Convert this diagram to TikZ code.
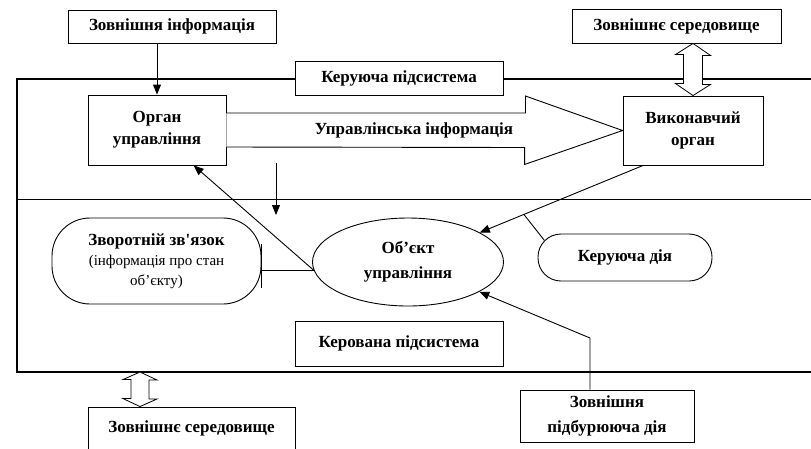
\documentclass[tikz,border=0pt]{standalone}
\usepackage{fontspec}
\setmainfont{Liberation Serif}
\usetikzlibrary{arrows.meta,calc,shapes.geometric}

\tikzset{
  box/.style={draw, fill=white, inner sep=2pt, align=center,
    font=\fontsize{17}{22}\selectfont\bfseries},
  oval/.style={draw, ellipse, fill=white, inner sep=0pt, align=center,
    font=\fontsize{17}{25}\selectfont\bfseries},
  pill/.style={draw, fill=white, rounded corners=#1, inner sep=2pt, align=center,
    font=\fontsize{15}{20}\selectfont},
  dbl/.style={draw, fill=white, line width=0.8pt}
}

\begin{document}
\begin{tikzpicture}[x=1pt, y=-1pt, line width=0.9pt, >={Triangle[length=10pt,width=8pt]}]
\useasboundingbox (0,0) rectangle (811,448);

% Рамка системи
\draw[line width=1.1pt] (811,79) -- (17,79) -- (17,372) -- (811,372);
\draw[line width=1.1pt] (17,199.5) -- (811,199.5);

% Блоки
\node[box, minimum width=208pt, minimum height=33pt] (extinfo) at (172,26.5) {Зовнішня інформація};
\node[box, minimum width=209pt, minimum height=34pt] (envtop) at (676.5,26) {Зовнішнє середовище};
\node[box, minimum width=208pt, minimum height=34pt] (ksub) at (399,78) {Керуюча підсистема};
\node[box, minimum width=138pt, minimum height=70pt] (organ) at (157,130) {Орган\\управління};
\node[box, minimum width=140pt, minimum height=69pt] (vyk) at (693,130.5) {Виконавчий\\орган};
\node[oval, minimum width=191pt, minimum height=88pt] (obj) at (408,262) {Об’єкт\\управління};
\node[pill=38pt, minimum width=209pt, minimum height=86pt] (fb) at (156.5,261)
  {{\fontsize{17}{20}\selectfont\bfseries Зворотній зв\textquotesingle язок}\\(інформація про стан\\об’єкту)};
\node[pill=23pt, minimum width=174pt, minimum height=47pt, font=\fontsize{17}{20}\selectfont\bfseries] (act) at (625,257.5) {Керуюча дія};
\node[box, minimum width=208pt, minimum height=45pt] (kersub) at (399,343.5) {Керована підсистема};
\node[box, minimum width=174pt, minimum height=52pt, font=\fontsize{17}{25}\selectfont\bfseries] (dist) at (607,416) {Зовнішня\\підбурююча дія};
\node[box, minimum width=207pt, minimum height=43pt] (envbot) at (191.5,428.5) {Зовнішнє середовище};

% Управлінська інформація
\draw[fill=white] ($(organ.east)+(0,-17)$) -- ++(299,0) -- ++(0,-17) -- (vyk.west)
  -- ++(-98,34) -- ++(0,-17) -- ($(organ.east)+(0,17)$);
\node[box, draw=none, fill=none] (upinfo) at (414,130) {Управлінська інформація};

% Обмін із середовищем
\draw[dbl] (vyk.north |- envtop.south) -- ++(17.5,12) -- ++(-8,0) -- ++(0,29) -- ++(8,0)
  -- (vyk.north) -- ++(-17.5,-12) -- ++(8,0) -- ++(0,-29) -- ++(-8,0) -- cycle;
\coordinate (io) at (140,372);
\draw[dbl] (io) -- ++(17,8) -- ++(-8,0) -- ++(0,19) -- ++(8,0)
  -- (io |- envbot.north) -- ++(-17,-8) -- ++(8,0) -- ++(0,-19) -- ++(-8,0) -- cycle;

% Зв'язки
\draw[->] (extinfo.south -| organ.north) -- (organ.north);
\coordinate (dtop) at (276,163);
\coordinate (dbot) at (276,215);
\draw[->] (dtop) -- (dbot);
\draw[->] (vyk.215) -- coordinate[pos=0.73] (hit) (obj);
\draw (hit) -- ($(act.north west)+(6.7,6.7)$);
\draw[->] (obj.185) -- (organ.-44);
\coordinate (fbend) at (obj.185 -| fb.east);
\draw (obj.185) -- (fbend);
\draw ([yshift=26pt]fbend) -- ([yshift=-18pt]fbend);
\coordinate (bend) at (590,338);
\draw[->] (bend |- dist.north) -- (bend) -- (obj);

\end{tikzpicture}
\end{document}
